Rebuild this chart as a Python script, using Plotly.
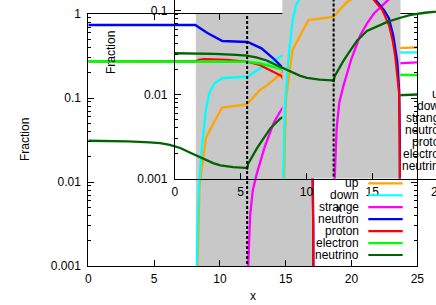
import plotly.graph_objects as go

# ---------------- data ----------------
up_x = [8.25, 8.3, 8.45, 8.7, 8.95, 10.15, 12.05, 13.05, 13.4, 14.7, 15.5, 16.3, 17.15, 18.5, 20.0, 22.0, 25.0]
up_y = [1e-6, 0.001, 0.009, 0.018, 0.034, 0.077, 0.084, 0.125, 0.135, 0.197, 0.24, 0.28, 0.32, 0.35, 0.37, 0.385, 0.40]

down_x = [8.22, 8.25, 8.32, 8.4, 8.65, 8.95, 9.2, 9.6, 10.19, 12.1, 13.09, 14.69, 15.5, 17.15, 20.0, 25.0]
down_y = [1e-6, 0.001, 0.004, 0.009, 0.028, 0.075, 0.115, 0.15, 0.173, 0.179, 0.227, 0.316, 0.33, 0.34, 0.345, 0.35]

strange_x = [12.1, 12.15, 12.3, 12.5, 12.8, 13.4, 14.1, 14.6, 15.13, 16.2, 17.15, 18.5, 20.0, 22.0, 25.0]
strange_y = [1e-6, 0.001, 0.004, 0.008, 0.0125, 0.026, 0.051, 0.07, 0.092, 0.133, 0.17, 0.21, 0.235, 0.252, 0.265]

neutron_x = [0, 8.13, 9.05, 10.19, 12.1, 13.16, 14.05, 14.69, 15.26, 15.9, 16.27, 16.6, 16.9, 17.05, 17.1, 17.12]
neutron_y = [0.74, 0.74, 0.594, 0.477, 0.464, 0.39, 0.297, 0.236, 0.133, 0.101, 0.081, 0.05, 0.025, 0.011, 0.003, 1e-6]

proton_x = [0, 8.13, 8.4, 8.8, 10.5, 11.3, 12.1, 13.03, 13.8, 14.69, 15.13, 15.77, 16.27, 16.55, 16.75, 16.92, 17.05, 17.1, 17.12]
proton_y = [0.273, 0.273, 0.285, 0.29, 0.285, 0.275, 0.27, 0.247, 0.215, 0.183, 0.133, 0.101, 0.067, 0.044, 0.028, 0.017, 0.01, 0.0015, 1e-6]

electron_x = [0, 11.5, 12.1, 13.1, 13.9, 14.69, 17.15, 20.0, 25.0]
electron_y = [0.273, 0.273, 0.27, 0.258, 0.24, 0.221, 0.2, 0.19, 0.188]

neutrino_x = [0, 3.0, 4.66, 5.46, 6.19, 6.99, 7.71, 8.51, 9.49, 10.04, 11.0, 11.94, 12.07,
              12.15, 12.4, 12.8, 13.2, 13.86, 14.6, 14.88, 16.15, 17.15, 17.93, 19.0, 19.91, 22.0, 25.0]
neutrino_y = [0.031, 0.0305, 0.0296, 0.029, 0.0277, 0.0254, 0.0225, 0.0198, 0.0168, 0.0158, 0.015, 0.0147, 0.0145,
              0.0165, 0.0195, 0.025, 0.031, 0.044, 0.057, 0.0595, 0.0733, 0.082, 0.0885, 0.094, 0.098, 0.105, 0.11]

mixed_start = 8.17      # grey band (mixed phase) start
mixed_end = 17.15       # grey band end
boundary_x = 12.07      # dashed vertical line

x_ticks = [0, 5, 10, 15, 20, 25]
y_ticks = [0.001, 0.01, 0.1, 1]
y_ticktext = ["0.001", "0.01", "0.1", "1"]

names = ["up", "down", "strange", "neutron", "proton", "electron", "neutrino"]
series_x = [up_x, down_x, strange_x, neutron_x, proton_x, electron_x, neutrino_x]
series_y = [up_y, down_y, strange_y, neutron_y, proton_y, electron_y, neutrino_y]
colors = ["#FFA500", "#00FFFF", "#FF00FF", "#0000FF", "#FF0000", "#00FF00", "#006400"]
widths = [2.3, 2.3, 2.3, 2.3, 2.1, 2.6, 2.3]

# ---------------- geometry (pixels) ----------------
W, H = 436, 305
FONT = "Liberation Sans, Arial, sans-serif"
main_l, main_r, main_t, main_b = 88.3, 417.3, 14.0, 266.0
off_x, off_y = 86.5, -87.5          # inset is the same plot, shifted
ins_l, ins_b = main_l + off_x, main_b + off_y
ppx = (main_r - main_l) / 25.0     # pixels per x unit
ppd = (main_b - main_t) / 3.0      # pixels per decade


def fx(p):
    return p / W


def fy(p):
    return 1 - p / H


ins_xmax = (W - ins_l) / ppx
ins_ymax = -3 + ins_b / ppd

fig = go.Figure()


def add_panel(xa, ya):
    # grey band
    fig.add_trace(go.Scatter(
        x=[mixed_start, mixed_end, mixed_end, mixed_start, mixed_start],
        y=[1e-5, 1e-5, 10, 10, 1e-5], mode="lines", fill="toself",
        fillcolor="#C8C8C8", line=dict(width=0), hoverinfo="skip",
        showlegend=False, xaxis=xa, yaxis=ya))
    for nm, xs, ys, c, w in zip(names, series_x, series_y, colors, widths):
        fig.add_trace(go.Scatter(x=xs, y=ys, mode="lines", name=nm,
                                 line=dict(color=c, width=w),
                                 showlegend=False, xaxis=xa, yaxis=ya))
    fig.add_trace(go.Scatter(x=[boundary_x, boundary_x], y=[1e-5, 10], mode="lines",
                             line=dict(color="black", width=2, dash="3px,2px"),
                             showlegend=False, hoverinfo="skip", xaxis=xa, yaxis=ya))


add_panel("x", "y")
add_panel("x2", "y2")

minor_vals = [k * 10.0 ** e for e in range(-3, 1) for k in range(2, 10)]
tickfont = dict(family=FONT, size=12, color="black")

common_x = dict(showline=True, linecolor="black", linewidth=1, ticks="inside", ticklen=6,
                tickcolor="black", tickvals=x_ticks, showgrid=False, zeroline=False,
                tickfont=tickfont, automargin=False, fixedrange=True, ticklabelstandoff=2)
common_y = dict(type="log", showline=True, linecolor="black", linewidth=1, ticks="inside",
                ticklen=6, tickcolor="black", tickvals=y_ticks, ticktext=y_ticktext,
                showgrid=False, zeroline=False, tickfont=tickfont, automargin=False,
                minor=dict(ticks="inside", ticklen=3, tickcolor="black", tickvals=minor_vals,
                           showgrid=False),
                fixedrange=True, ticklabelstandoff=4)

fig.update_layout(
    width=W, height=H, margin=dict(l=0, r=0, t=0, b=0),
    paper_bgcolor="white", plot_bgcolor="rgba(0,0,0,0)",
    template="none", showlegend=False,
    xaxis=dict(common_x, domain=[fx(main_l), fx(main_r)], range=[0, 25], anchor="y",
               mirror="allticks"),
    yaxis=dict(common_y, domain=[fy(main_b), fy(main_t)], range=[-3, 0], anchor="x",
               mirror="allticks"),
    xaxis2=dict(common_x, domain=[fx(ins_l), 1], range=[0, ins_xmax], anchor="y2"),
    yaxis2=dict(common_y, domain=[fy(ins_b), 1], range=[-3, ins_ymax], anchor="x2"),
)

annots = []
for dxp, dyp in [(0, 0), (off_x, off_y)]:
    annots.append(dict(text="x", x=fx(252.7 + dxp), y=fy(295.5 + dyp), xref="paper", yref="paper",
                       showarrow=False, font=dict(family=FONT, size=12, color="black"),
                       xanchor="center", yanchor="middle"))
    annots.append(dict(text="Fraction", x=fx(25 + dxp), y=fy(140 + dyp), xref="paper",
                       yref="paper", showarrow=False, textangle=-90,
                       font=dict(family=FONT, size=12, color="black"),
                       xanchor="center", yanchor="middle"))
# inset tick label that falls just outside the visible range
annots.append(dict(text="20", x=fx(ins_l + 20 * ppx), y=fy(ins_b + 13.5), xref="paper", yref="paper",
                   showarrow=False, font=tickfont, xanchor="center", yanchor="middle"))

# gnuplot-style keys (text right-aligned, sample line on its right)
shapes = []
for dxp, dyp in [(0, 0), (off_x, off_y - 1.5)]:
    for i, (nm, c) in enumerate(zip(names, colors)):
        yy = 183.3 + 11.95 * i + dyp
        annots.append(dict(text=nm, x=fx(361 + dxp), y=fy(yy), xref="paper", yref="paper",
                           showarrow=False, font=dict(family=FONT, size=12, color="black"),
                           xanchor="right", yanchor="middle"))
        shapes.append(dict(type="line", xref="paper", yref="paper", layer="above",
                           x0=fx(368.3 + dxp), x1=fx(402.7 + dxp), y0=fy(yy), y1=fy(yy),
                           line=dict(color=c, width=2.2)))

fig.update_layout(annotations=annots, shapes=shapes)
fig.write_html("out.html", config={"displayModeBar": False},
               post_script="document.body.style.margin='0';document.body.style.overflow='hidden';")
